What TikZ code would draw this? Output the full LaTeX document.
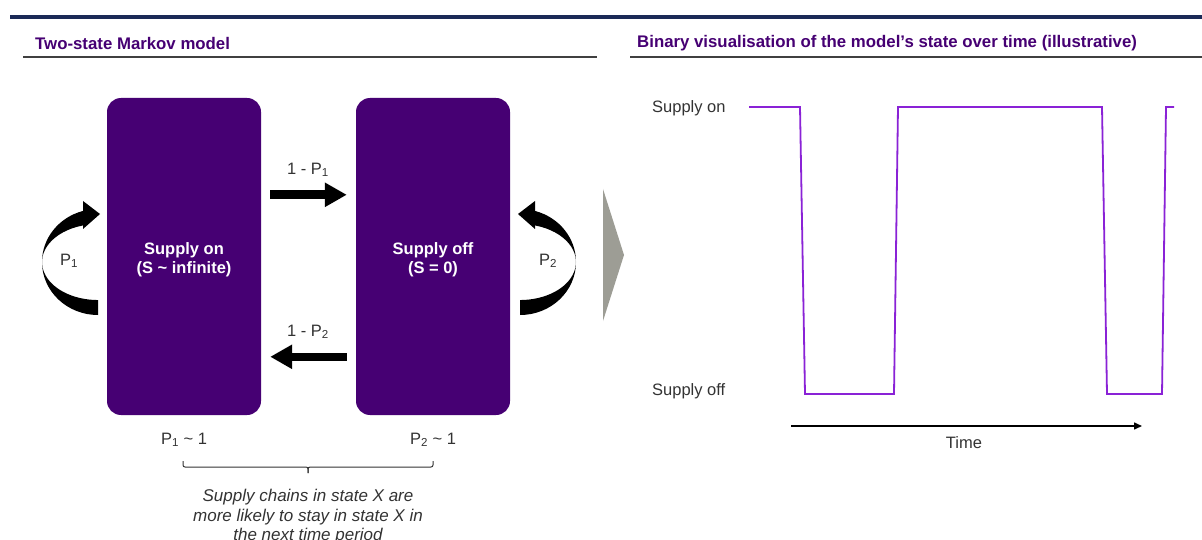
\documentclass[tikz,border=0pt]{standalone}
\usepackage{fontspec}
\setmainfont{Liberation Sans}
\usetikzlibrary{arrows.meta,calc}
\definecolor{acc}{HTML}{460073}
\definecolor{sig}{HTML}{8A22D6}
\definecolor{navy}{HTML}{1B2A57}
\definecolor{txt}{HTML}{333333}
\definecolor{chev}{HTML}{9D9D95}
\tikzset{
  statebox/.style={fill=acc, rounded corners=14, minimum width=154, minimum height=317, inner sep=0},
  boxtext/.style={text=white, align=center, inner sep=0, font=\bfseries\fontsize{16.5}{19}\selectfont},
  lbl/.style={text=txt, font=\fontsize{16.5}{18}\selectfont, inner sep=0},
  title/.style={text=acc, font=\bfseries\fontsize{16.8}{18}\selectfont, anchor=west, inner sep=0},
  bigarrow/.style={line width=8.6, -{Triangle[length=22,width=23]}},
  rule/.style={draw=black!75, line width=1.2},
  signal/.style={draw=sig, line width=1.8, line join=miter},
}
\begin{document}
\begin{tikzpicture}[x=1pt,y=-1pt]
\useasboundingbox (0,0) rectangle (1202,540);
\fill[white] (0,0) rectangle (1202,540);
% top rule
\fill[navy] (10,15) rectangle (1202,19);
% titles
\node[title] (t1) at (35,43) {Two-state Markov model};
\node[title] (t2) at (637,43) {Binary visualisation of the model’s state over time (illustrative)};
\draw[rule] (23,57) -- (597,57);
\draw[rule] (630,57) -- (1202,57);
% state boxes
\node[statebox] (on) at (184,256.5) {};
\node[statebox] (off) at (433,256.5) {};
\node[boxtext] (ontxt) at ($(on)+(0,3)$) {Supply on\\(S \textasciitilde{} infinite)};
\node[boxtext] (offtxt) at ($(off)+(0,3)$) {Supply off\\(S = 0)};
% straight arrows
\draw[bigarrow] ($(on.north east)+(9,97)$) -- ($(off.north west)+(-9,97)$);
\draw[bigarrow] ($(off.north west)+(-9,259)$) -- ($(on.north east)+(9,259)$);
\node[lbl] (l1) at (308,170) {1 - P\textsubscript{1}};
\node[lbl] (l2) at (308,332) {1 - P\textsubscript{2}};
% self loop left
\coordinate (cl) at (98,262);
\fill ($(cl)+(0,53)$) arc[start angle=90, end angle=254.5, x radius=56, y radius=53]
  -- ++(0,14.5) arc[start angle=254.5, end angle=90, x radius=56, y radius=38] -- cycle;
\fill (83,201) -- (100,214) -- (83,229) -- cycle;
\node[lbl] (p1) at (69,261) {P\textsubscript{1}};
% self loop right
\coordinate (cr) at (520,262);
\fill ($(cr)+(0,53)$) arc[start angle=90, end angle=-74.5, x radius=56, y radius=53]
  -- ++(0,14.5) arc[start angle=-74.5, end angle=90, x radius=56, y radius=38] -- cycle;
\fill (535,201) -- (518,214) -- (535,229) -- cycle;
\node[lbl] (p2) at (548,261) {P\textsubscript{2}};
% chevron
\fill[chev] (603,189) -- (624,255) -- (603,321) -- cycle;
% bottom labels and brace
\node[lbl] (b1) at (184,440) {P\textsubscript{1} \textasciitilde{} 1};
\node[lbl] (b2) at (433,440) {P\textsubscript{2} \textasciitilde{} 1};
\draw[txt, line width=1, rounded corners=2] (183,461) -- (183,467) -- (308,467) -- (308,473);
\draw[txt, line width=1, rounded corners=2] (308,473) -- (308,467) -- (433,467) -- (433,461);
\node[lbl, align=center, font=\itshape\fontsize{17}{19.5}\selectfont, anchor=north] (note) at (308,489)
  {Supply chains in state X are\\more likely to stay in state X in\\the next time period};
% right chart
\node[lbl, anchor=west] (son) at (652,108) {Supply on};
\node[lbl, anchor=west] (soff) at (652,391) {Supply off};
\draw[signal] (749,107) -- (800,107) -- (805,394) -- (894,394) -- (898,107) -- (1102,107)
  -- (1107,394) -- (1162,394) -- (1166,107) -- (1174,107);
\coordinate (ta) at (791,426);
\coordinate (tb) at (1142,426);
\draw[line width=1.5, -{Triangle[length=8,width=7]}] (ta) -- (tb);
\node[lbl] (time) at (964,443) {Time};
\end{tikzpicture}
\end{document}
